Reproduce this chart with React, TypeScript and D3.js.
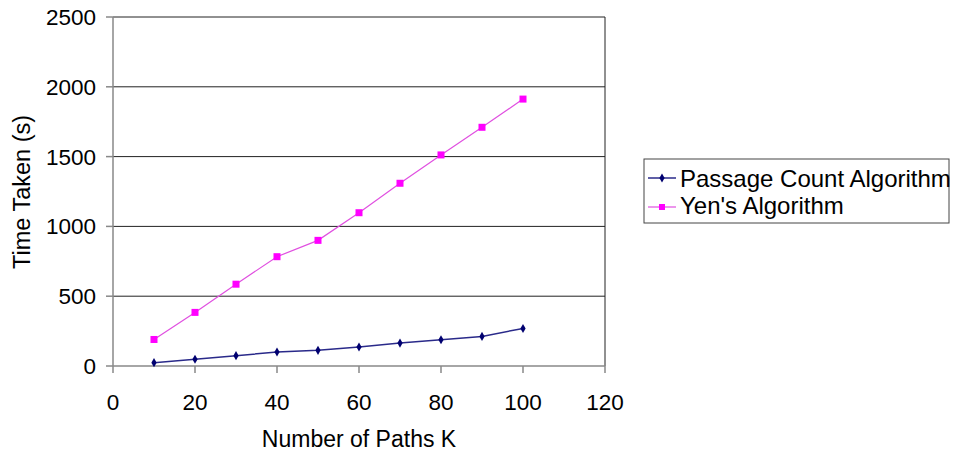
import React from "react";
import * as d3 from "d3";

const kValues = [10, 20, 30, 40, 50, 60, 70, 80, 90, 100];
const passageCount = [24, 48, 74, 100, 112, 136, 164, 188, 212, 269];
const yens = [190, 384, 586, 783, 900, 1098, 1309, 1512, 1710, 1912];
const xTicks = [0, 20, 40, 60, 80, 100, 120];
const yTicks = [0, 500, 1000, 1500, 2000, 2500];
const seriesNames = ["Passage Count Algorithm", "Yen's Algorithm"];

const W = 953;
const H = 458;
const left = 113;
const right = 605;
const top = 17;
const bottom = 366;
const font = "'Liberation Sans', Arial, sans-serif";

export default function App() {
  const x = d3.scaleLinear().domain([0, 120]).range([left, right]);
  const y = d3.scaleLinear().domain([0, 2500]).range([bottom, top]);
  const line = d3
    .line<number>()
    .x((_, i) => x(kValues[i]))
    .y((d) => y(d));

  const diamond = d3.symbol(d3.symbolDiamond, 24)() as string;

  return (
    <svg
      width={W}
      height={H}
      style={{ position: "absolute", left: 0, top: 0, background: "#fff" }}
      fontFamily={font}
    >
      <rect x={0} y={0} width={W} height={H} fill="#fff" />
      {/* horizontal gridlines */}
      {yTicks.slice(1).map((t) => (
        <line key={t} x1={left} x2={right} y1={y(t)} y2={y(t)} stroke="#222" strokeWidth={1} />
      ))}
      {/* right border */}
      <line x1={right} x2={right} y1={top} y2={bottom} stroke="#222" strokeWidth={1} />
      {/* axes */}
      <line x1={left} x2={left} y1={top} y2={bottom} stroke="#888" strokeWidth={1.5} />
      <line x1={left} x2={right} y1={bottom} y2={bottom} stroke="#888" strokeWidth={1.5} />
      {yTicks.map((t) => (
        <g key={t}>
          <line x1={left - 7} x2={left} y1={y(t)} y2={y(t)} stroke="#888" strokeWidth={1.5} />
          <text x={96} y={y(t) + 8} textAnchor="end" fontSize={22.5} fill="#000">
            {t}
          </text>
        </g>
      ))}
      {xTicks.map((t) => (
        <g key={t}>
          <line x1={x(t)} x2={x(t)} y1={bottom} y2={bottom + 7} stroke="#888" strokeWidth={1.5} />
          <text x={x(t)} y={410} textAnchor="middle" fontSize={22.5} fill="#000">
            {t}
          </text>
        </g>
      ))}
      <text x={359} y={447} textAnchor="middle" fontSize={23} fill="#000">
        Number of Paths K
      </text>
      <text
        transform={`translate(30, 192) rotate(-90)`}
        textAnchor="middle"
        fontSize={23.5}
        fill="#000"
      >
        Time Taken (s)
      </text>

      {/* series */}
      <path d={line(yens) || ""} fill="none" stroke="#e050e0" strokeWidth={1.2} />
      {yens.map((v, i) => (
        <rect key={i} x={x(kValues[i]) - 3.5} y={y(v) - 3.5} width={7} height={7} fill="#ff00ff" />
      ))}
      <path d={line(passageCount) || ""} fill="none" stroke="#2a2a8a" strokeWidth={1.5} />
      {passageCount.map((v, i) => (
        <path key={i} d={diamond} transform={`translate(${x(kValues[i])},${y(v)})`} fill="#000070" />
      ))}

      {/* legend */}
      <rect x={644} y={159} width={305} height={64} fill="#fff" stroke="#444" strokeWidth={1} />
      <line x1={648} x2={676} y1={178} y2={178} stroke="#2a2a8a" strokeWidth={1.5} />
      <path d={diamond} transform="translate(662,178)" fill="#000070" />
      <text x={680} y={187} fontSize={24} fill="#000">
        {seriesNames[0]}
      </text>
      <line x1={648} x2={676} y1={207} y2={207} stroke="#e050e0" strokeWidth={1.2} />
      <rect x={659} y={204} width={6} height={6} fill="#ff00ff" />
      <text x={680} y={214} fontSize={24} fill="#000">
        {seriesNames[1]}
      </text>
    </svg>
  );
}
